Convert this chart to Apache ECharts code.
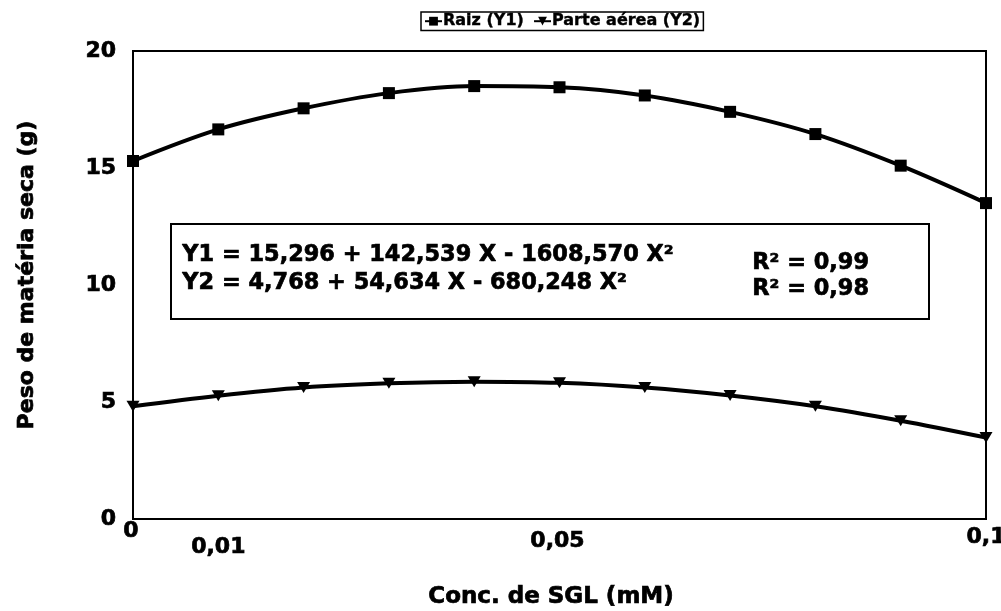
<!DOCTYPE html>
<html>
<head>
<meta charset="utf-8">
<script src="https://cdn.jsdelivr.net/npm/echarts@6/dist/echarts.min.js"></script>
<style>
html,body{margin:0;padding:0;background:#fff;}
#chart{width:1001px;height:611px;}
</style>
</head>
<body>
<div id="chart"></div>
<script>
// Data
var concentrations = [0, 0.01, 0.02, 0.03, 0.04, 0.05, 0.06, 0.07, 0.08, 0.09, 0.1];
var raiz = [15.3, 16.65, 17.55, 18.2, 18.5, 18.45, 18.1, 17.4, 16.45, 15.1, 13.5];
var parteAerea = [4.82, 5.27, 5.62, 5.8, 5.87, 5.82, 5.62, 5.28, 4.82, 4.2, 3.48];
var xTickValues = [0, 0.01, 0.05, 0.1];
var xTickLabels = ['0', '0,01', '0,05', '0,1'];
var xTickStyles = ['t0', 't1', 't5', 't10'];
var seriesNames = ['Raiz (Y1)', 'Parte a\u00e9rea (Y2)'];
var equationLines = ['Y1 = 15,296 + 142,539 X - 1608,570 X\u00b2', 'Y2 = 4,768 + 54,634 X - 680,248 X\u00b2'];
var r2Lines = ['R\u00b2 = 0,99', 'R\u00b2 = 0,98'];

var FONT = 'DejaVu Sans';
function pairs(ys) { return concentrations.map(function (x, i) { return [x, ys[i]]; }); }
function lab(extra) {
  var o = {fontFamily: FONT, fontWeight: 'bold', fontSize: 22, color: '#000', textBorderColor: '#000', textBorderWidth: 0.7};
  for (var k in extra) o[k] = extra[k];
  return o;
}

var chart = echarts.init(document.getElementById('chart'), null, {renderer: 'canvas'});
var option = {
  backgroundColor: '#fff',
  animation: false,
  grid: {left: 133, right: 15, top: 51, bottom: 92, show: true, borderColor: '#000', borderWidth: 2,
         backgroundColor: 'transparent', containLabel: false, outerBoundsMode: 'none'},
  legend: {
    left: 421, top: 12,
    data: seriesNames,
    borderColor: '#000', borderWidth: 1.5, padding: [1, 3, 1, 3],
    itemGap: 9, itemWidth: 17, itemHeight: 11,
    textStyle: {fontFamily: FONT, fontWeight: 'bold', fontSize: 16, color: '#000', padding: [0, 0, 0, -4],
                textBorderColor: '#000', textBorderWidth: 0.4}
  },
  xAxis: {
    type: 'value', min: 0, max: 0.1, interval: 0.01,
    name: 'Conc. de SGL (mM)', nameLocation: 'middle', nameGap: 67,
    nameTextStyle: lab({fontSize: 23, padding: [0, 17, 0, 0]}),
    axisLine: {show: true, lineStyle: {color: '#000', width: 2}},
    axisTick: {show: false},
    splitLine: {show: false},
    axisLabel: {
      margin: 0, showMinLabel: true, showMaxLabel: true,
      formatter: function (v) {
        for (var i = 0; i < xTickValues.length; i++) {
          if (Math.abs(v - xTickValues[i]) < 1e-6) return '{' + xTickStyles[i] + '|' + xTickLabels[i] + '}';
        }
        return '';
      },
      rich: {
        t0: lab({lineHeight: 22, padding: [2, 4, 0, 0]}),
        t1: lab({lineHeight: 22, padding: [34, 0, 0, 0]}),
        t5: lab({lineHeight: 22, padding: [22, 4, 0, 0]}),
        t10: lab({lineHeight: 22, padding: [14, 0, 0, 0]})
      }
    }
  },
  yAxis: {
    type: 'value', min: 0, max: 20, interval: 5,
    name: 'Peso de mat\u00e9ria seca (g)', nameLocation: 'middle', nameGap: 95, nameRotate: 90,
    nameTextStyle: lab({padding: [0, 0, 0, 20]}),
    axisLine: {show: true, lineStyle: {color: '#000', width: 2}},
    axisTick: {show: false},
    splitLine: {show: false},
    axisLabel: lab({margin: 17})
  },
  series: [
    {
      name: seriesNames[0], type: 'line', smooth: 0.35, data: pairs(raiz),
      symbol: 'rect', symbolSize: 12,
      lineStyle: {color: '#000', width: 4}, itemStyle: {color: '#000'}
    },
    {
      name: seriesNames[1], type: 'line', smooth: 0.35, data: pairs(parteAerea),
      symbol: 'triangle', symbolRotate: 180, symbolSize: [13, 11],
      lineStyle: {color: '#000', width: 4}, itemStyle: {color: '#000'}
    }
  ],
  graphic: [
    {type: 'rect', left: 170, top: 223, z: 10, shape: {width: 758, height: 95}, style: {fill: '#fff', stroke: '#000', lineWidth: 2}},
    {type: 'text', left: 182, top: 244, z: 11, style: {text: equationLines[0], font: 'bold 22.4px "DejaVu Sans"', fill: '#000', stroke: '#000', lineWidth: 0.7}},
    {type: 'text', left: 182, top: 272, z: 11, style: {text: equationLines[1], font: 'bold 22.4px "DejaVu Sans"', fill: '#000', stroke: '#000', lineWidth: 0.7}},
    {type: 'text', left: 752, top: 252, z: 11, style: {text: r2Lines[0], font: 'bold 22.4px "DejaVu Sans"', fill: '#000', stroke: '#000', lineWidth: 0.7}},
    {type: 'text', left: 752, top: 278, z: 11, style: {text: r2Lines[1], font: 'bold 22.4px "DejaVu Sans"', fill: '#000', stroke: '#000', lineWidth: 0.7}}
  ]
};
chart.setOption(option);
</script>
</body>
</html>
